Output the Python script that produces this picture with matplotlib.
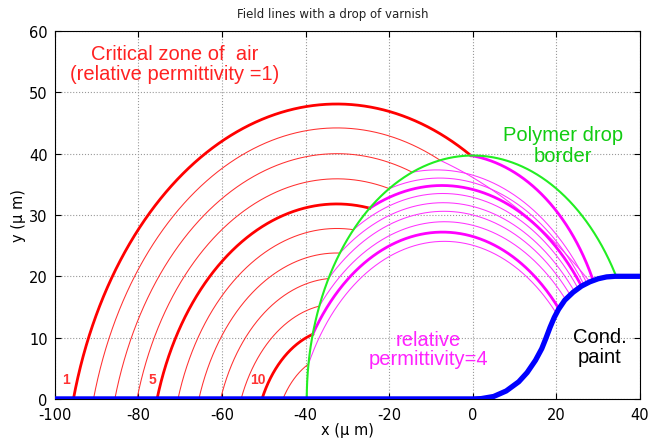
import numpy as np
import matplotlib.pyplot as plt

plt.rcParams['axes.unicode_minus'] = False

# blue conductive paint profile
cond_x = [-100, 0, 2, 5, 8, 11, 13, 15, 16.5, 17.5, 18.5, 19.5, 20.5, 22, 24, 26, 28, 30, 32, 34, 40]
cond_y = [0, 0, 0.05, 0.4, 1.3, 2.8, 4.3, 6.3, 8.2, 9.9, 11.7, 13.3, 14.6, 16.1, 17.4, 18.4, 19.1, 19.6, 19.9, 20, 20]

# polymer drop border: circle
drop_cx, drop_cy, drop_r = 0.0, 0.0, 39.7

# field lines in air: foot on the ground, height of the arc top
air_start = [-95.5, -90.7, -85.6, -80.3, -75.5, -70.5, -65.5, -60.3, -55.4, -50.4, -45.4]
air_top = [48.1, 44.2, 40.0, 35.9, 31.8, 27.8, 23.8, 19.7, 15.5, 11.4, 7.3]
air_top_x = -32.5

# field lines in the drop: height near x=-6.5 and landing x on the paint
drop_top = [39.9, 38.5, 37.3, 36.0, 34.8, 33.5, 32.0, 30.6, 28.9, 27.2, 25.7]
drop_top_x = -6.5
land_x = [28.8, 28.0, 27.3, 26.6, 26.0, 25.2, 24.3, 23.3, 22.2, 20.6, 20.0]

thick_lines = [1, 5, 10]
line_tags = ['1', '5', '10']
tag_x = [-97.3, -76.6, -51.4]


def circle3(p1, p2, p3):
    # centre and radius of the circle through three points
    (x1, y1), (x2, y2), (x3, y3) = p1, p2, p3
    d = 2 * (x1 * (y2 - y3) + x2 * (y3 - y1) + x3 * (y1 - y2))
    s1, s2, s3 = x1**2 + y1**2, x2**2 + y2**2, x3**2 + y3**2
    ux = (s1 * (y2 - y3) + s2 * (y3 - y1) + s3 * (y1 - y2)) / d
    uy = (s1 * (x3 - x2) + s2 * (x1 - x3) + s3 * (x2 - x1)) / d
    return ux, uy, np.hypot(x1 - ux, y1 - uy)


fig = plt.figure(figsize=(6.66, 4.39), dpi=100)
ax = fig.add_axes([0.082, 0.089, 0.879, 0.838])

for i in range(len(air_start)):
    n = i + 1
    thick = n in thick_lines
    lw = 2.0 if thick else 0.75

    # --- red part (air) ---
    s = air_start[i]
    cx, cy, r = circle3((s, 0), (air_top_x, air_top[i]), (2 * air_top_x - s, 0))
    t0 = np.arctan2(0 - cy, s - cx)
    t = np.linspace(t0, t0 - np.pi, 4000)
    xr = cx + r * np.cos(t)
    yr = cy + r * np.sin(t)
    inside = np.hypot(xr - drop_cx, yr - drop_cy) < drop_r
    k = np.argmax(inside)
    ax.plot(xr[:k + 1], yr[:k + 1], color='#ff0000' if thick else '#ff3030',
            lw=lw, zorder=3)

    # --- magenta part (drop) ---
    p_start = (xr[k], yr[k])
    p_end = (land_x[i], np.interp(land_x[i], cond_x, cond_y))
    mx, my, mr = circle3(p_start, (drop_top_x, drop_top[i]), p_end)
    ts = np.arctan2(p_start[1] - my, p_start[0] - mx)
    te = np.arctan2(p_end[1] - my, p_end[0] - mx)
    t = np.linspace(ts, te, 400)
    ax.plot(mx + mr * np.cos(t), my + mr * np.sin(t),
            color='#ff00ff' if thick else '#ff33ff', lw=lw, zorder=3)

# drop border
t = np.linspace(np.pi, 0, 2000)
gx = drop_cx + drop_r * np.cos(t)
gy = drop_cy + drop_r * np.sin(t)
keep = gy >= np.interp(gx, cond_x, cond_y) - 0.05
ax.plot(gx[keep], gy[keep], color='#22ee22', lw=1.5, zorder=4)

# conductor
ax.plot(cond_x, cond_y, color='#0000ff', lw=3.8, zorder=5)

# tags of the lines
for tx, txt in zip(tag_x, line_tags):
    ax.text(tx, 3.3, txt, color='#ff3333', fontsize=10, fontweight='bold',
            ha='center', va='center', family='Liberation Sans')

ax.text(-71.2, 54.7, 'Critical zone of  air\n(relative permittivity =1)',
        color='#ff2222', fontsize=14.5, ha='center', va='center',
        family='Liberation Sans', linespacing=1.1)
ax.text(21.5, 41.4, 'Polymer drop\nborder', color='#11cc11', fontsize=14.5,
        ha='center', va='center', family='Liberation Sans', linespacing=1.1)
ax.text(-10.6, 8.2, 'relative\npermittivity=4', color='#ff22ff', fontsize=14.5,
        ha='center', va='center', family='Liberation Sans', linespacing=1.0)
ax.text(30.3, 8.6, 'Cond.\npaint', color='black', fontsize=14.5,
        ha='center', va='center', family='Liberation Sans', linespacing=1.05)

ax.set_xlim(-100, 40)
ax.set_ylim(0, 60)
ax.set_xticks(np.arange(-100, 41, 20))
ax.set_yticks(np.arange(0, 61, 10))
ax.tick_params(direction='in', top=True, right=True, labelsize=10.5, length=4)
ax.tick_params(axis='x', pad=5.5)
ax.tick_params(axis='y', pad=5)
ax.grid(True, linestyle=':', color='#999999', lw=0.8)
ax.set_xlabel('x (µ m)', fontsize=10.5, labelpad=0)
ax.set_ylabel('y (µ m)', fontsize=10.5, labelpad=2)
fig.text(0.5, 0.968, 'Field lines with a drop of varnish', fontsize=8.5,
         ha='center', va='center', color='#222222')

plt.savefig('out.png', dpi=100)
